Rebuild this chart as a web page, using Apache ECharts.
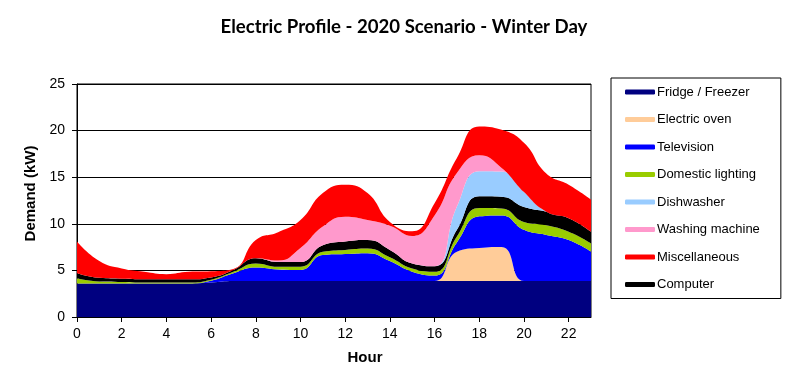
<!DOCTYPE html>
<html>
<head>
<meta charset="utf-8">
<script src="https://cdn.jsdelivr.net/npm/echarts@6/dist/echarts.min.js"></script>
<style>html,body{margin:0;padding:0;background:#fff}#c{width:787px;height:381px}</style>
</head>
<body>
<div id="c"></div>
<script>
var hours = ['0','1','2','3','4','5','6','7','8','9','10','11','12','13','14','15','16','17','18','19','20','21','22','23'];
var yTicks = [0, 5, 10, 15, 20, 25];
var fridge     = [3.6,3.6,3.6,3.6,3.6,3.6,3.7,3.85,3.85,3.85,3.85,3.85,3.85,3.85,3.85,3.85,3.85,3.85,3.85,3.85,3.85,3.85,3.85,3.85];
var oven       = [0,0,0,0,0,0,0,0,0,0,0,0,0,0,0,0,0,3.15,3.55,3.65,0,0,0,0];
var television = [0,0,0,0,0,0,0.2,0.85,1.45,1.25,1.2,2.8,2.9,3.0,2.15,1.0,0.6,1.0,3.4,3.4,5.5,4.95,4.4,3.15];
var lighting   = [0.55,0.2,0.15,0.1,0.1,0.1,0.1,0.15,0.45,0.3,0.35,0.35,0.45,0.5,0.4,0.35,0.4,0.65,0.9,0.75,0.85,1.05,0.9,0.9];
var computer   = [0.55,0.4,0.35,0.35,0.35,0.35,0.25,0.2,0.55,0.5,0.5,0.7,0.9,0.9,0.8,0.55,0.6,0.7,1.25,1.25,1.6,1.45,1.45,1.25];
var dishwasher = [0,0,0,0,0,0,0,0,0,0,0,0,0,0,0,0,0,2.5,2.7,2.7,1.6,0,0,0];
var washing    = [0,0,0,0,0,0,0,0,0,0.15,1.5,2.0,2.65,2.15,2.6,2.95,5.45,3.6,1.7,0.4,0,0,0,0];
var misc       = [3.4,1.8,1.1,0.8,0.55,0.8,0.65,0.1,1.95,3.05,3.0,3.6,3.45,2.9,0.4,0.5,1.3,1.6,3.1,4.1,5.3,4.1,3.6,3.45];

var legendOrder = ['Fridge / Freezer','Electric oven','Television','Domestic lighting','Dishwasher','Washing machine','Miscellaneous','Computer'];

function mk(name, data, color) {
  return {
    name: name, type: 'line', stack: 'total', data: data,
    smooth: 0.5, showSymbol: false, symbol: 'none',
    itemStyle: { color: color },
    lineStyle: { width: 0, color: color },
    areaStyle: { color: color, opacity: 1 },
    emphasis: { disabled: true },
    animation: false
  };
}

var chart = echarts.init(document.getElementById('c'));
chart.setOption({
  animation: false,
  backgroundColor: '#ffffff',
  title: {
    text: 'Electric Profile - 2020 Scenario - Winter Day',
    left: 399, top: 12, textAlign: 'center',
    textStyle: { fontFamily: 'Lato', fontWeight: 'bold', fontSize: 18.6, color: '#000' }
  },
  legend: {
    data: legendOrder,
    orient: 'vertical',
    left: 611, top: 78,
    padding: [6, 21, 6, 14],
    borderColor: '#000', borderWidth: 1,
    icon: 'roundRect', itemWidth: 30, itemHeight: 5, itemGap: 11.5,
    textStyle: { fontFamily: 'Liberation Sans', fontSize: 13, color: '#000', lineHeight: 16, padding: [0,0,0,-3] },
    selectedMode: false
  },
  grid: { left: 77, right: 196, top: 84, bottom: 64, show: true, borderColor: '#000', borderWidth: 1, backgroundColor: 'transparent' },
  xAxis: {
    type: 'category', data: hours, boundaryGap: false,
    name: 'Hour', nameLocation: 'middle', nameGap: 33,
    nameTextStyle: { fontFamily: 'Liberation Sans', fontWeight: 'bold', fontSize: 15, color: '#000', padding: [0,0,0,62] },
    axisLine: { lineStyle: { color: '#000', width: 1 } },
    axisTick: { show: true, interval: 1, length: 5, lineStyle: { color: '#000' } },
    axisLabel: { interval: 1, margin: 10, fontFamily: 'Liberation Sans', fontSize: 14, color: '#000' },
    splitLine: { show: false }
  },
  yAxis: {
    type: 'value', min: yTicks[0], max: yTicks[yTicks.length-1], interval: 5,
    name: 'Demand (kW)', nameLocation: 'middle', nameGap: 36,
    nameTextStyle: { fontFamily: 'Liberation Sans', fontWeight: 'bold', fontSize: 15, color: '#000', padding: [0,0,0,14] },
    axisLine: { show: true, lineStyle: { color: '#000', width: 1 } },
    axisTick: { show: true, length: 5, lineStyle: { color: '#000' } },
    axisLabel: { margin: 12, fontFamily: 'Liberation Sans', fontSize: 14, color: '#000' },
    splitLine: { show: true, lineStyle: { color: '#000', width: 1 } }
  },
  series: [
    mk('Fridge / Freezer', fridge, '#000080'),
    mk('Electric oven', oven, '#FFCC99'),
    mk('Television', television, '#0000FF'),
    mk('Domestic lighting', lighting, '#99CC00'),
    mk('Computer', computer, '#000000'),
    mk('Dishwasher', dishwasher, '#99CCFF'),
    mk('Washing machine', washing, '#FF99CC'),
    mk('Miscellaneous', misc, '#FF0000')
  ]
});
</script>
</body>
</html>
